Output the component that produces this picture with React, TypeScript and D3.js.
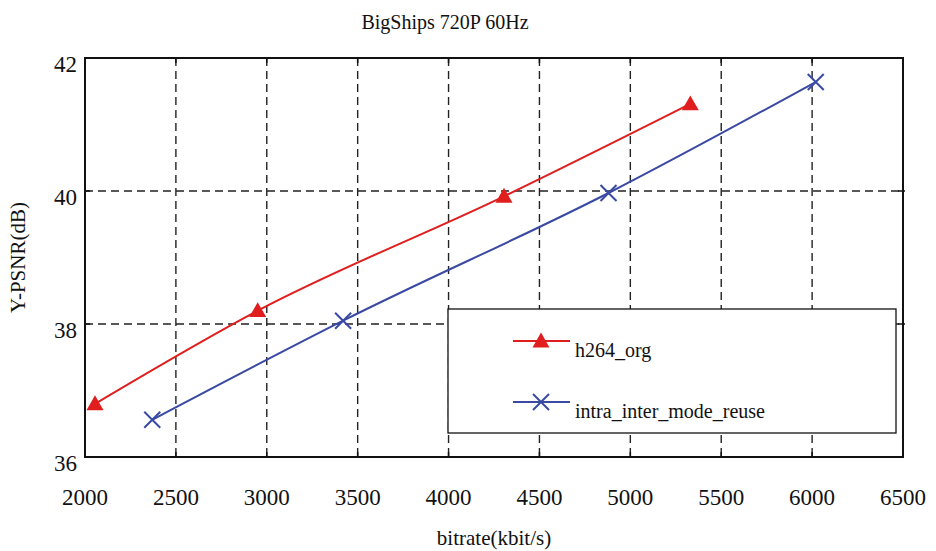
import React from "react";
import * as d3 from "d3";

const title = "BigShips 720P 60Hz";
const xTitle = "bitrate(kbit/s)";
const yTitle = "Y-PSNR(dB)";

const xTicks = [2000, 2500, 3000, 3500, 4000, 4500, 5000, 5500, 6000, 6500];
const yTicks = [36, 38, 40, 42];

const h264Bitrate = [2055, 2950, 4305, 5330];
const h264Psnr = [36.8, 38.2, 39.92, 41.31];

const reuseBitrate = [2370, 3420, 4880, 6020];
const reusePsnr = [36.56, 38.05, 39.97, 41.64];

const series = [
  { name: "h264_org", xs: h264Bitrate, ys: h264Psnr, color: "#e01e1e", marker: "triangle" },
  { name: "intra_inter_mode_reuse", xs: reuseBitrate, ys: reusePsnr, color: "#3a4aa3", marker: "cross" },
];

const W = 936;
const H = 551;
const left = 85;
const right = 903;
const top = 58;
const bottom = 457;

function Marker({ kind, x, y, color }: { kind: string; x: number; y: number; color: string }) {
  if (kind === "triangle") {
    const s = 8.5;
    return (
      <path
        d={`M${x},${y - s} L${x + s},${y + s * 0.75} L${x - s},${y + s * 0.75} Z`}
        fill={color}
      />
    );
  }
  const s = 8;
  return (
    <path
      d={`M${x - s},${y - s} L${x + s},${y + s} M${x - s},${y + s} L${x + s},${y - s}`}
      stroke={color}
      strokeWidth={2}
      fill="none"
    />
  );
}

export default function App() {
  const x = d3.scaleLinear().domain([2000, 6500]).range([left, right]);
  const y = d3.scaleLinear().domain([36, 42]).range([bottom, top]);

  const font = "Liberation Serif, DejaVu Serif, serif";

  const legendX = 448;
  const legendY = 309;
  const legendW = 448;
  const legendH = 124;

  return (
    <svg
      width={W}
      height={H}
      style={{ position: "absolute", left: 0, top: 0, background: "#fff", fontFamily: font }}
    >
      <text x={445} y={29} textAnchor="middle" fontSize={20} fill="#111">
        {title}
      </text>

      {/* grid */}
      {xTicks.slice(1, -1).map((t) => (
        <line
          key={"gx" + t}
          x1={x(t)}
          x2={x(t)}
          y1={top}
          y2={bottom}
          stroke="#222"
          strokeWidth={1.4}
          strokeDasharray="8,5"
        />
      ))}
      {yTicks.slice(1, -1).map((t) => (
        <line
          key={"gy" + t}
          x1={left}
          x2={right}
          y1={y(t)}
          y2={y(t)}
          stroke="#222"
          strokeWidth={1.4}
          strokeDasharray="8,5"
        />
      ))}

      {/* ticks */}
      {xTicks.slice(1, -1).map((t) => (
        <g key={"tx" + t}>
          <line x1={x(t)} x2={x(t)} y1={bottom} y2={bottom - 5} stroke="#111" strokeWidth={1.5} />
          <line x1={x(t)} x2={x(t)} y1={top} y2={top + 5} stroke="#111" strokeWidth={1.5} />
        </g>
      ))}
      {yTicks.slice(1, -1).map((t) => (
        <g key={"ty" + t}>
          <line x1={left} x2={left + 5} y1={y(t)} y2={y(t)} stroke="#111" strokeWidth={1.5} />
          <line x1={right - 5} x2={right + 2} y1={y(t)} y2={y(t)} stroke="#111" strokeWidth={1.5} />
        </g>
      ))}

      {/* series */}
      {series.map((s) => {
        const pts = s.xs.map((v, i) => [x(v), y(s.ys[i])] as [number, number]);
        const line = d3.line().curve(d3.curveMonotoneX)(pts) || "";
        return (
          <g key={s.name}>
            <path d={line} fill="none" stroke={s.color} strokeWidth={2} />
            {pts.map((p, i) => (
              <Marker key={i} kind={s.marker} x={p[0]} y={p[1]} color={s.color} />
            ))}
          </g>
        );
      })}

      {/* frame */}
      <rect x={left} y={top} width={right - left} height={bottom - top} fill="none" stroke="#111" strokeWidth={2} />

      {/* legend */}
      <rect x={legendX} y={legendY} width={legendW} height={legendH} fill="#fff" stroke="#111" strokeWidth={1.3} />
      {series.map((s, i) => {
        const ly = legendY + 32 + i * 61;
        return (
          <g key={"lg" + s.name}>
            <line x1={513} x2={570} y1={ly} y2={ly} stroke={s.color} strokeWidth={2} />
            <Marker kind={s.marker} x={541} y={ly} color={s.color} />
            <text x={575} y={ly + 16} fontSize={20} fill="#111">
              {s.name}
            </text>
          </g>
        );
      })}

      {/* axis labels */}
      {xTicks.map((t) => (
        <text key={"lx" + t} x={x(t)} y={505} textAnchor="middle" fontSize={23} fill="#111">
          {t}
        </text>
      ))}
      {yTicks.map((t) => (
        <text key={"ly" + t} x={77} y={y(t) + 14} textAnchor="end" fontSize={23} fill="#111">
          {t}
        </text>
      ))}

      <text x={494} y={545} textAnchor="middle" fontSize={21} fill="#111">
        {xTitle}
      </text>
      <text
        transform={`translate(25,${(top + bottom) / 2}) rotate(-90)`}
        textAnchor="middle"
        fontSize={21}
        fill="#111"
      >
        {yTitle}
      </text>
    </svg>
  );
}
